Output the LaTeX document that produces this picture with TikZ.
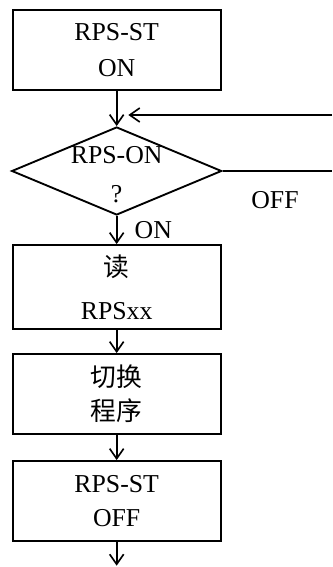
\documentclass[tikz,border=0pt]{standalone}
\usepackage{fontspec}
\setmainfont{Liberation Serif}
\newfontfamily\cjk{Noto Sans CJK SC}
\usetikzlibrary{shapes.geometric,arrows.meta}

\tikzset{
    box/.style={draw, line width=1.6pt, minimum width=6.24cm, minimum height=2.4cm, align=center, inner sep=0pt},
    test/.style={draw, diamond, line width=1.6pt, minimum width=6.3cm, minimum height=2.64cm, aspect=2.39, align=center, inner sep=0pt},
    flow/.style={line width=1.6pt, -{Straight Barb[length=3mm,width=4.2mm,line width=1.4pt]}},
}

\begin{document}
\begin{tikzpicture}[font=\fontsize{22}{29}\selectfont]
    \useasboundingbox (0,0) rectangle (9.96,-17.01);
    \node[box] (st) at (3.5,-1.5) {RPS-ST\\[2pt]ON};
    \node[test, label={[align=center, yshift=-3pt]center:RPS-ON\\[4pt]?}] (q) at (3.5,-5.13) {};
    \node[box, minimum height=2.52cm] (rd) at (3.5,-8.61) {{\cjk 读}\\[8pt]RPSxx};
    \node[box] (sw) at (3.5,-11.82) {{\cjk 切换}\\{\cjk 程序}};
    \node[box] (off) at (3.5,-15.03) {RPS-ST\\OFF};
    \coordinate (back) at (9.96,-3.45);
    \coordinate (loop) at (3.85,-3.45);
    \coordinate (right) at (9.96,-5.13);
    \coordinate (out) at (3.5,-16.97);
    \draw[flow] (st) -- (q);
    \draw[flow] (back) -- (loop);
    \draw[line width=1.6pt] (q.east) -- (right);
    \draw[flow] (q) -- (rd);
    \draw[flow] (rd) -- (sw);
    \draw[flow] (sw) -- (off);
    \draw[flow] (off) -- (out);
    \node (on) at (4.6,-6.9) {ON};
    \node (offtxt) at (8.25,-6.0) {OFF};
\end{tikzpicture}
\end{document}
